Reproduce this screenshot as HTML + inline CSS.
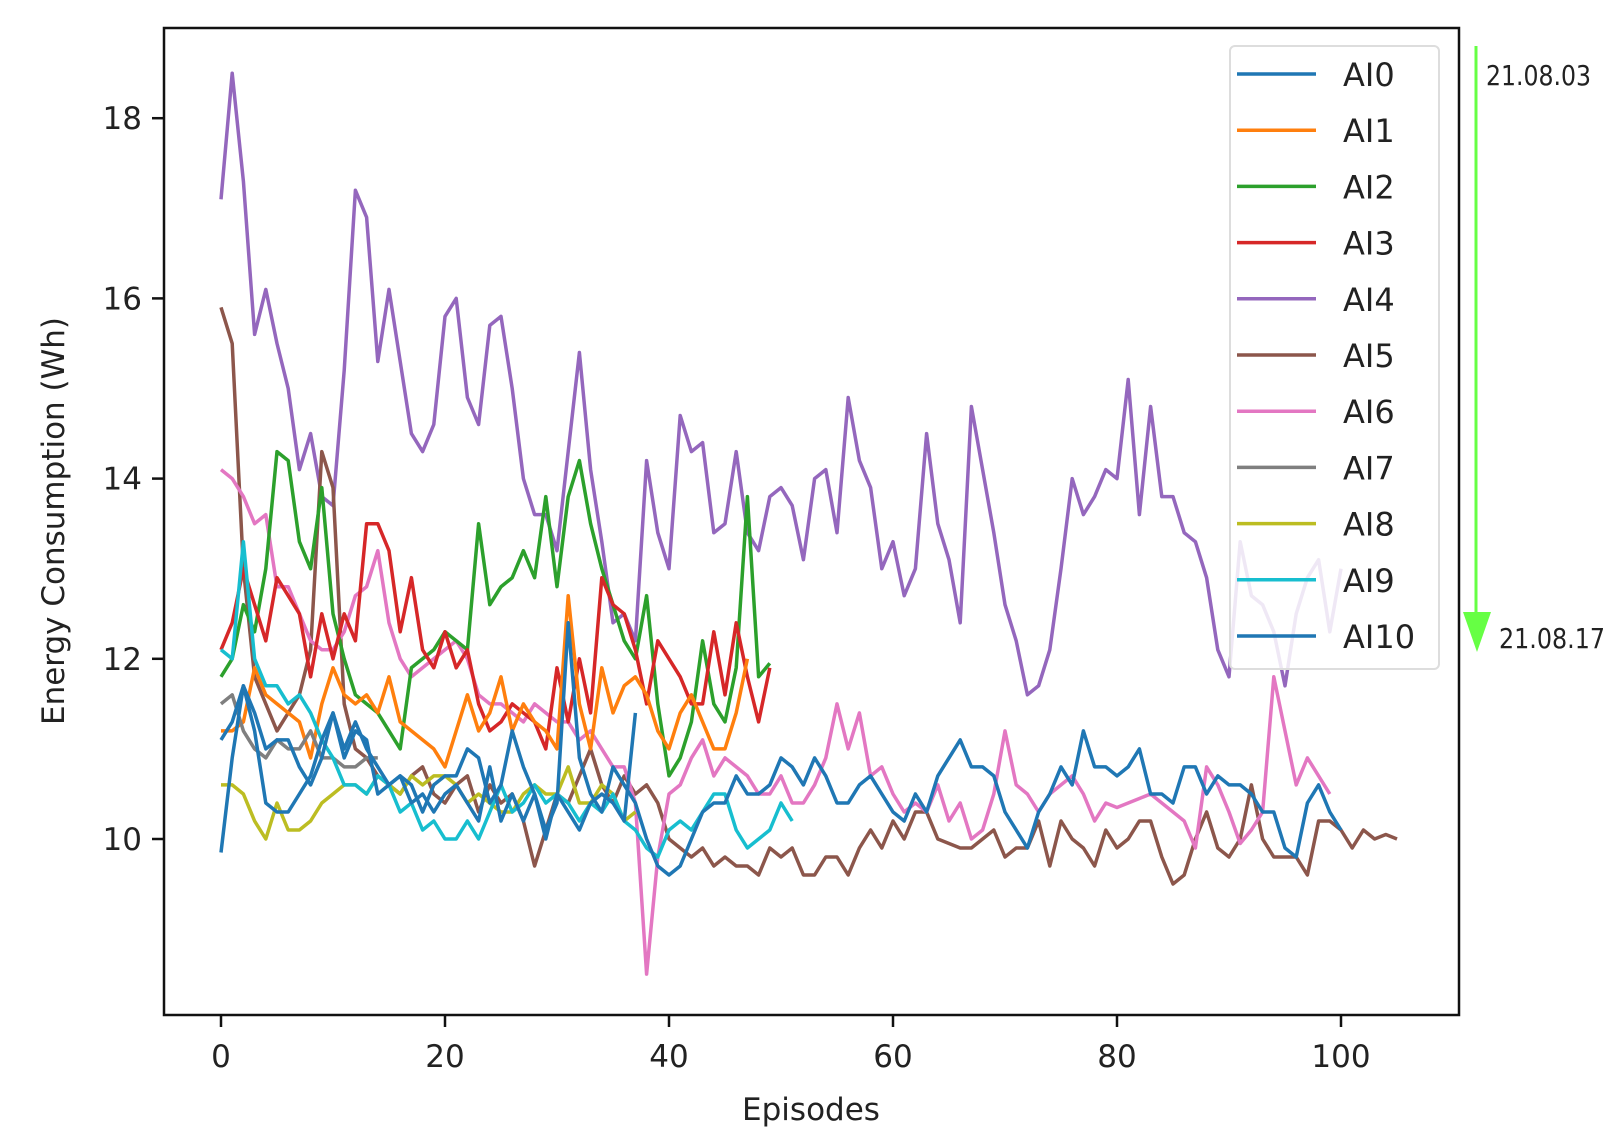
<!DOCTYPE html>
<html><head><meta charset="utf-8"><style>
html,body{margin:0;padding:0;background:#fff;}
svg{display:block;}
text{font-family:"DejaVu Sans","Liberation Sans",sans-serif;fill:#222;}
</style></head><body>
<svg id="chart" width="1622" height="1147" viewBox="0 0 1622 1147">
<rect x="0" y="0" width="1622" height="1147" fill="#fff"/>
<g id="series"></g>
<g id="axes"></g>
</svg>
<script>
const seriesNames = ["AI0","AI1","AI2","AI3","AI4","AI5","AI6","AI7","AI8","AI9","AI10"];
const colors = ["#1f77b4","#ff7f0e","#2ca02c","#d62728","#9467bd","#8c564b","#e377c2","#7f7f7f","#bcbd22","#17becf","#1f77b4"];
const ai0 = [11.1,11.3,11.7,11.4,11.0,11.1,11.1,10.8,10.6,10.9,11.4,11.0,11.3,11.0,10.8,10.6,10.7,10.6,10.3,10.6,10.7,10.7,11.0,10.9,10.4,10.6,11.2,10.8,10.5,10.1,10.4,12.4,10.9,10.5,10.3,10.8,10.6,10.4,10.0,9.7,9.6,9.7,10.0,10.3,10.4,10.4,10.7,10.5,10.5,10.6,10.9,10.8,10.6,10.9,10.7,10.4,10.4,10.6,10.7,10.5,10.3,10.2,10.5,10.3,10.7,10.9,11.1,10.8,10.8,10.7,10.3,10.1,9.9,10.3,10.5,10.8,10.6,11.2,10.8,10.8,10.7,10.8,11.0,10.5,10.5,10.4,10.8,10.8,10.5,10.7,10.6,10.6,10.5,10.3,10.3,9.9,9.8,10.4,10.6,10.3,10.1];
const ai1 = [11.2,11.2,11.3,11.9,11.6,11.5,11.4,11.3,10.9,11.5,11.9,11.6,11.5,11.6,11.4,11.8,11.3,11.2,11.1,11.0,10.8,11.2,11.6,11.2,11.4,11.8,11.2,11.5,11.3,11.2,11.0,12.7,11.5,11.0,11.9,11.4,11.7,11.8,11.6,11.2,11.0,11.4,11.6,11.3,11.0,11.0,11.4,12.0];
const ai2 = [11.8,12.0,12.6,12.3,13.0,14.3,14.2,13.3,13.0,13.9,12.5,12.0,11.6,11.5,11.4,11.2,11.0,11.9,12.0,12.1,12.3,12.2,12.1,13.5,12.6,12.8,12.9,13.2,12.9,13.8,12.8,13.8,14.2,13.5,13.0,12.6,12.2,12.0,12.7,11.5,10.7,10.9,11.3,12.2,11.5,11.3,11.9,13.8,11.8,11.95];
const ai3 = [12.1,12.4,13.0,12.6,12.2,12.9,12.7,12.5,11.8,12.5,12.0,12.5,12.2,13.5,13.5,13.2,12.3,12.9,12.1,11.9,12.3,11.9,12.1,11.5,11.2,11.3,11.5,11.4,11.3,11.0,11.9,11.3,12.0,11.4,12.9,12.6,12.5,12.1,11.5,12.2,12.0,11.8,11.5,11.5,12.3,11.6,12.4,11.8,11.3,11.9];
const ai4 = [17.1,18.5,17.3,15.6,16.1,15.5,15.0,14.1,14.5,13.8,13.7,15.2,17.2,16.9,15.3,16.1,15.3,14.5,14.3,14.6,15.8,16.0,14.9,14.6,15.7,15.8,15.0,14.0,13.6,13.6,13.2,14.3,15.4,14.1,13.3,12.4,12.5,12.2,14.2,13.4,13.0,14.7,14.3,14.4,13.4,13.5,14.3,13.4,13.2,13.8,13.9,13.7,13.1,14.0,14.1,13.4,14.9,14.2,13.9,13.0,13.3,12.7,13.0,14.5,13.5,13.1,12.4,14.8,14.1,13.4,12.6,12.2,11.6,11.7,12.1,13.0,14.0,13.6,13.8,14.1,14.0,15.1,13.6,14.8,13.8,13.8,13.4,13.3,12.9,12.1,11.8,13.3,12.7,12.6,12.3,11.7,12.5,12.9,13.1,12.3,13.0];
const ai5 = [15.9,15.5,13.0,11.8,11.5,11.2,11.4,11.6,12.1,14.3,13.9,11.5,11.0,10.9,10.7,10.6,10.5,10.7,10.8,10.5,10.4,10.6,10.7,10.3,10.6,10.4,10.5,10.2,9.7,10.1,10.5,10.4,10.7,11.0,10.6,10.4,10.7,10.5,10.6,10.4,10.0,9.9,9.8,9.9,9.7,9.8,9.7,9.7,9.6,9.9,9.8,9.9,9.6,9.6,9.8,9.8,9.6,9.9,10.1,9.9,10.2,10.0,10.3,10.3,10.0,9.95,9.9,9.9,10.0,10.1,9.8,9.9,9.9,10.2,9.7,10.2,10.0,9.9,9.7,10.1,9.9,10.0,10.2,10.2,9.8,9.5,9.6,10.0,10.3,9.9,9.8,10.0,10.6,10.0,9.8,9.8,9.8,9.6,10.2,10.2,10.1,9.9,10.1,10.0,10.05,10.0];
const ai6 = [14.1,14.0,13.8,13.5,13.6,12.8,12.8,12.5,12.2,12.1,12.1,12.3,12.7,12.8,13.2,12.4,12.0,11.8,11.9,12.0,12.1,12.2,12.0,11.6,11.5,11.5,11.4,11.3,11.5,11.4,11.3,11.3,11.1,11.2,11.0,10.8,10.8,10.4,8.5,9.8,10.5,10.6,10.9,11.1,10.7,10.9,10.8,10.7,10.5,10.5,10.7,10.4,10.4,10.6,10.9,11.5,11.0,11.4,10.7,10.8,10.5,10.3,10.4,10.3,10.6,10.2,10.4,10.0,10.1,10.5,11.2,10.6,10.5,10.3,10.5,10.6,10.7,10.5,10.2,10.4,10.35,10.4,10.45,10.5,10.4,10.3,10.2,9.9,10.8,10.6,10.3,9.95,10.1,10.3,11.8,11.2,10.6,10.9,10.7,10.5];
const ai7 = [11.5,11.6,11.2,11.0,10.9,11.1,11.0,11.0,11.2,10.9,10.9,10.8,10.8,10.9,10.9];
const ai8 = [10.6,10.6,10.5,10.2,10.0,10.4,10.1,10.1,10.2,10.4,10.5,10.6,10.6,10.5,10.7,10.6,10.5,10.7,10.6,10.7,10.7,10.6,10.4,10.5,10.4,10.3,10.3,10.5,10.6,10.5,10.5,10.8,10.4,10.4,10.6,10.5,10.2,10.3];
const ai9 = [12.1,12.0,13.3,12.0,11.7,11.7,11.5,11.6,11.4,11.1,10.9,10.6,10.6,10.5,10.7,10.6,10.3,10.4,10.1,10.2,10.0,10.0,10.2,10.0,10.3,10.6,10.3,10.4,10.6,10.4,10.5,10.4,10.2,10.4,10.3,10.5,10.2,10.1,9.9,9.8,10.1,10.2,10.1,10.3,10.5,10.5,10.1,9.9,10.0,10.1,10.4,10.2];
const ai10 = [9.85,10.9,11.7,11.2,10.4,10.3,10.3,10.5,10.7,11.1,11.4,10.9,11.2,11.1,10.5,10.6,10.7,10.4,10.5,10.3,10.5,10.6,10.4,10.2,10.8,10.2,10.5,10.2,10.5,10.0,10.5,10.3,10.1,10.4,10.5,10.4,10.2,11.4];
const xTicks = [0,20,40,60,80,100];
const yTicks = [10,12,14,16,18];

const NS="http://www.w3.org/2000/svg";
const X0=221, XS=11.2, Y0=839, YS=90.1;
function xs(i){return X0+XS*i;}
function ys(v){return Y0-YS*(v-10);}
function mk(tag,attrs,parent){const e=document.createElementNS(NS,tag);for(const k in attrs)e.setAttribute(k,attrs[k]);parent.appendChild(e);return e;}
const sg=document.getElementById('series');
const ag=document.getElementById('axes');
const all=[ai0,ai1,ai2,ai3,ai4,ai5,ai6,ai7,ai8,ai9,ai10];
const order=[4,5,6,2,3,1,7,8,9,0,10];
order.forEach(k=>{
  const d=all[k];
  const p=mk('polyline',{points:d.map((v,i)=>xs(i).toFixed(1)+','+ys(v).toFixed(1)).join(' '),fill:'none',stroke:colors[k],'stroke-width':3.5,'stroke-linejoin':'round'},sg);
  
  
});
const frame=mk('rect',{x:164,y:28,width:1295,height:987,fill:'none',stroke:'#111','stroke-width':2.5},ag);


xTicks.forEach(t=>{
  const l=mk('line',{x1:xs(t),x2:xs(t),y1:1015,y2:1027,stroke:'#111','stroke-width':2.5},ag);
  
  
  const tx=mk('text',{x:xs(t),y:1067,'text-anchor':'middle','font-size':31},ag);
  tx.textContent=t;
  
  
});
yTicks.forEach(t=>{
  const l=mk('line',{x1:152,x2:164,y1:ys(t),y2:ys(t),stroke:'#111','stroke-width':2.5},ag);
  
  
  const tx=mk('text',{x:142,y:ys(t)+11,'text-anchor':'end','font-size':31},ag);
  tx.textContent=t;
  
  
});
const xl=mk('text',{x:811,y:1120,'text-anchor':'middle','font-size':31},ag);
xl.textContent='Episodes';


const yl=mk('text',{x:0,y:0,'text-anchor':'middle','font-size':31,transform:'translate(64,521) rotate(-90)'},ag);
yl.textContent='Energy Consumption (Wh)';


const lg=mk('g',{},ag);


mk('rect',{x:1230,y:46,width:209,height:623,rx:5,fill:'#fff','fill-opacity':0.85,stroke:'#ddd','stroke-width':2},lg);
seriesNames.forEach((n,k)=>{
  const y=74+56.2*k;
  const l=mk('line',{x1:1237,x2:1316,y1:y,y2:y,stroke:colors[k],'stroke-width':3.5},lg);
  
  
  const t=mk('text',{x:1343,y:y+12,'font-size':32},lg);
  t.textContent=n;
  
  
});
const ar=mk('g',{},ag);


mk('line',{x1:1476,x2:1476,y1:46,y2:620,stroke:'#66ff44','stroke-width':3},ar);
mk('polygon',{points:'1463,612 1491,612 1477,652',fill:'#66ff44'},ar);
const d1=mk('text',{x:1486,y:85,'font-size':28,textLength:105,lengthAdjust:'spacingAndGlyphs'},ag);
d1.textContent='21.08.03';


const d2=mk('text',{x:1499,y:648,'font-size':28,textLength:106,lengthAdjust:'spacingAndGlyphs'},ag);
d2.textContent='21.08.17';


</script>
</body></html>
